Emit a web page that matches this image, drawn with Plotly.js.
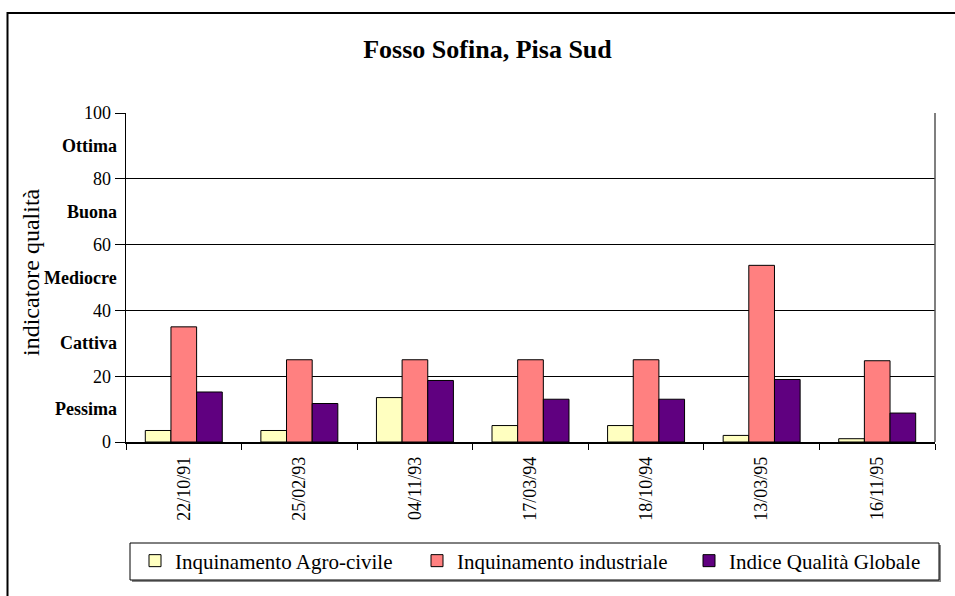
<!DOCTYPE html>
<html>
<head>
<meta charset="utf-8">
<script src="https://cdn.plot.ly/plotly-3.0.1.min.js"></script>
<style>html,body{margin:0;padding:0;background:#fff;}#chart{width:955px;height:596px;}</style>
</head>
<body>
<div id="chart"></div>
<script>
// ---- data ----
const dates = ['22/10/91','25/02/93','04/11/93','17/03/94','18/10/94','13/03/95','16/11/95'];
const agroCivile = [3.5, 3.5, 13.5, 5, 5, 2, 1];
const industriale = [35, 25, 25, 25, 25, 53.7, 24.7];
const qualitaGlobale = [15.2, 11.7, 18.7, 13, 13, 19, 8.8];
const seriesNames = ['Inquinamento Agro-civile', 'Inquinamento industriale', 'Indice Qualità Globale'];
const classLabels = ['Pessima', 'Cattiva', 'Mediocre', 'Buona', 'Ottima'];
const classValues = [10, 30, 50, 70, 90];
const yTickVals = [0, 20, 40, 60, 80, 100];

const FONT = 'Liberation Serif, Times New Roman, serif';
const colors = ['#FFFFC0', '#FF8080', '#600080'];
const W = 955, H = 596, L = 126, R = 20, T = 113, B = 154;
const pw = W - L - R, ph = H - T - B;
const px = x => (x - L) / pw;
const py = y => (H - B - y) / ph;

const legendIds = ['legend', 'legend2', 'legend3'];
const legendX = [135, 417, 689];

const seriesVals = [agroCivile, industriale, qualitaGlobale];
const traces = seriesVals.map((v, i) => ({
  type: 'bar', x: dates, y: v, name: seriesNames[i], legend: legendIds[i],
  marker: {color: colors[i], line: {color: '#000', width: 1}},
  hoverinfo: 'skip'
}));

const annotations = classLabels.map((t, i) => ({
  xref: 'paper', yref: 'y', x: px(119), y: classValues[i],
  xanchor: 'right', yanchor: 'middle', showarrow: false,
  text: '<b>' + t + '</b>', font: {family: FONT, size: 18, color: '#000'}
}));
annotations.push({
  xref: 'paper', yref: 'paper', x: px(31), y: py(272), textangle: -90,
  xanchor: 'center', yanchor: 'middle', showarrow: false,
  text: 'indicatore qualità', font: {family: FONT, size: 24, color: '#000'}
});

const shapes = [
  // outer chart border
  {type: 'rect', xref: 'paper', yref: 'paper', x0: px(7.5), y0: py(13), x1: px(1100), y1: py(700),
   line: {color: '#000', width: 2}, fillcolor: 'rgba(0,0,0,0)', layer: 'below'},
  // plot area right border
  {type: 'line', xref: 'paper', yref: 'paper', x0: 1, x1: 1, y0: 0, y1: 1, line: {color: '#555', width: 1.5}},
  // legend shadow
  {type: 'rect', xref: 'paper', yref: 'paper', x0: px(132), y0: py(545), x1: px(941), y1: py(582),
   line: {width: 0}, fillcolor: '#888', layer: 'above'},
  // legend box
  {type: 'rect', xref: 'paper', yref: 'paper', x0: px(130), y0: py(543), x1: px(939), y1: py(580),
   line: {color: '#000', width: 1}, fillcolor: '#fff', layer: 'above'}
];

const legendBase = {
  orientation: 'h', xref: 'container', yref: 'container', y: 1 - 561 / H,
  xanchor: 'left', yanchor: 'middle',
  font: {family: FONT, size: 21, color: '#000'}, bgcolor: 'rgba(0,0,0,0)', borderwidth: 0
};

const layout = {
  width: W, height: H,
  margin: {l: L, r: R, t: T, b: B, pad: 0, autoexpand: false},
  paper_bgcolor: '#fff', plot_bgcolor: '#fff',
  font: {family: FONT, color: '#000', size: 18},
  title: {text: '<b>Fosso Sofina, Pisa Sud</b>', font: {family: FONT, size: 26, color: '#000'},
          xref: 'container', yref: 'container', x: 487.5 / W, y: 1 - 49 / H, xanchor: 'center', yanchor: 'middle'},
  barmode: 'group', bargap: 0.334, bargroupgap: 0,
  showlegend: true,
  legend: Object.assign({}, legendBase, {x: legendX[0] / W}),
  legend2: Object.assign({}, legendBase, {x: legendX[1] / W}),
  legend3: Object.assign({}, legendBase, {x: legendX[2] / W}),
  xaxis: {type: 'category', tickangle: -90, ticks: 'outside', ticklen: 6, tickcolor: '#000',
          ticklabelstandoff: 6,
          tickson: 'boundaries', showline: true, linecolor: '#000', linewidth: 1.5, automargin: false,
          showgrid: false, tickfont: {family: FONT, size: 18, color: '#000'}, fixedrange: true},
  yaxis: {range: [0, 100], tickvals: yTickVals, ticks: 'outside', ticklen: 10, tickcolor: '#000',
          showline: true, linecolor: '#000', linewidth: 1.5, showgrid: true, gridcolor: '#000', automargin: false,
          gridwidth: 1, zeroline: false, tickfont: {family: FONT, size: 18, color: '#000'}, fixedrange: true},
  annotations: annotations,
  shapes: shapes
};

Plotly.newPlot('chart', traces, layout, {displayModeBar: false, staticPlot: true});
</script>
</body>
</html>
